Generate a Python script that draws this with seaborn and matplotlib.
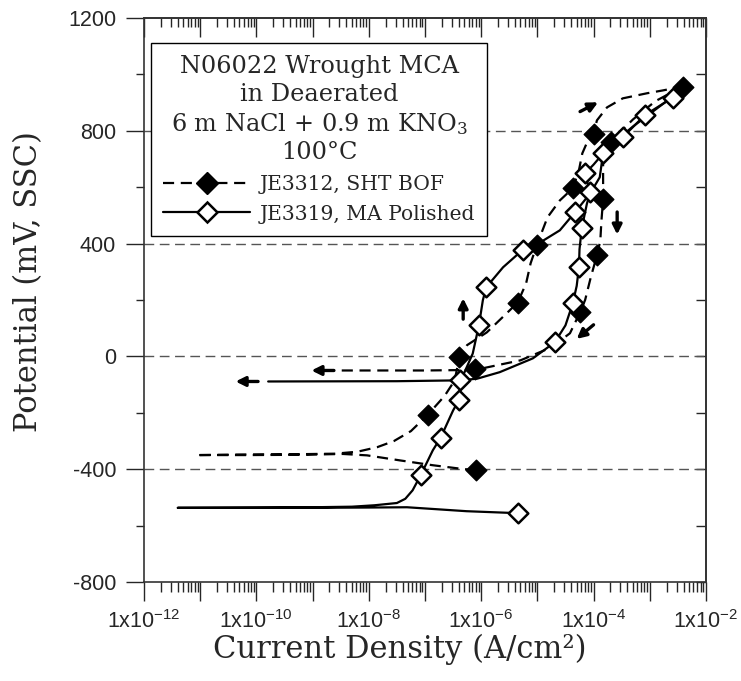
import numpy as np
import pandas as pd
import matplotlib
matplotlib.use('Agg')
import matplotlib.pyplot as plt
import seaborn as sns
from matplotlib.lines import Line2D
from matplotlib.ticker import FixedLocator, FuncFormatter, NullFormatter

# JE3312, SHT BOF (dashed line, filled diamonds); current as log10(A/cm2), potential in mV SSC
bof_fwd_logi = [-6.09, -6.38, -6.86, -7.44, -8.03, -8.46, -9.2, -10.2, -11.07,
                -10.3, -9.3, -8.6, -8.2, -7.85, -7.55, -7.25, -6.95, -6.65, -6.47, -6.39,
                -6.25, -5.9, -5.55, -5.35, -5.2, -5.12, -5.01, -4.82, -4.6, -4.37,
                -4.26, -4.2, -4.1, -4.0, -3.94, -3.76, -3.48, -3.05, -2.77, -2.41]
bof_fwd_mv = [-404, -398, -386, -369, -351, -346, -349, -350, -350,
              -348, -347, -345, -338, -322, -300, -265, -207, -140, -85, -3,
              40, 85, 152, 191, 259, 330, 394, 493, 553, 596,
              660, 720, 766, 790, 837, 883, 915, 933, 943, 957]
bof_rev_logi = [-2.41, -2.9, -3.3, -3.55, -3.69, -3.8, -3.83, -3.83, -3.83, -3.86,
                -3.88, -3.94, -4.05, -4.15, -4.24, -4.42, -4.75, -5.3, -6.11, -7.0, -8.57]
bof_rev_mv = [957, 905, 840, 790, 759, 725, 690, 620, 557, 480,
              410, 358, 280, 200, 156, 82, 32, -14, -48, -50, -50]
bof_mark_logi = [-6.09, -6.95, -6.39, -5.35, -5.01, -4.37, -4.0, -2.41,
                 -3.69, -3.83, -3.94, -4.24, -6.11]
bof_mark_mv = [-404, -207, -3, 191, 394, 596, 790, 957,
               759, 557, 358, 156, -45]

# JE3319, MA Polished (solid line, open diamonds)
ma_fwd_logi = [-5.35, -6.26, -7.32, -8.0, -9.0, -10.0, -11.4, -10.0, -9.0, -8.3,
               -7.9, -7.5, -7.35, -7.22, -7.07, -6.86, -6.72, -6.5, -6.39, -6.36,
               -6.15, -6.04, -5.97, -5.91, -5.61, -5.31, -5.26, -4.95, -4.6, -4.33,
               -4.06, -3.89, -3.83, -3.58, -3.48, -3.09, -2.59, -2.4]
ma_fwd_mv = [-556, -549, -535, -536, -537, -537, -537, -536, -535, -533,
             -528, -520, -505, -475, -419, -333, -288, -192, -153, -85,
             10, 110, 199, 245, 316, 369, 379, 404, 447, 511,
             578, 635, 720, 770, 777, 855, 918, 950]
ma_rev_logi = [-2.4, -2.7, -3.0, -3.3, -3.6, -3.85, -4.0, -4.15, -4.1, -4.06,
               -4.12, -4.21, -4.25, -4.26, -4.3, -4.37, -4.5, -4.69, -5.08, -5.67,
               -6.07, -6.38, -7.5, -9.79]
ma_rev_mv = [950, 905, 860, 815, 765, 715, 680, 649, 610, 582,
             540, 454, 380, 316, 250, 188, 110, 50, -7, -56,
             -79, -85, -88, -89]
ma_mark_logi = [-5.35, -7.07, -6.72, -6.39, -6.04, -5.91, -5.26, -4.33, -3.83, -3.48,
                -3.09, -2.59, -4.15, -4.06, -4.21, -4.26, -4.37, -4.69, -6.38]
ma_mark_mv = [-556, -419, -288, -153, 110, 245, 379, 511, 720, 777,
              855, 918, 649, 582, 454, 316, 188, 50, -85]

grid_levels = [-400, 0, 400, 800]
# scan-direction arrows: (tail log i, tail mV, head log i, head mV)
arrows = [(-4.24, 868, -3.92, 901), (-3.58, 512, -3.58, 432), (-4.0, 112, -4.3, 62),
          (-6.32, 132, -6.32, 206), (-8.62, -50, -9.02, -50), (-9.97, -89, -10.37, -89)]

legend_title = 'N06022 Wrought MCA\nin Deaerated\n6 m NaCl + 0.9 m KNO$\\mathregular{_3}$\n100°C'
labels = ['JE3312, SHT BOF', 'JE3319, MA Polished']

sns.set_style('ticks')
plt.rcParams['font.family'] = ['Liberation Sans', 'DejaVu Sans']
plt.rcParams['axes.unicode_minus'] = False
serif = ['DejaVu Serif']

fig = plt.figure(figsize=(7.41, 6.81), dpi=100)
ax = fig.add_axes([0.1943, 0.1454, 0.7584, 0.8282])
ax.set_xscale('log')

for lv in grid_levels:
    ax.axhline(lv, color='#555555', lw=1, ls=(0, (7, 4)), zorder=1)

def to_i(vals):
    return [10 ** v for v in vals]

sns.lineplot(x=to_i(bof_fwd_logi), y=bof_fwd_mv, sort=False, estimator=None, ax=ax,
             color='black', lw=1.6, linestyle=(0, (5, 3)), zorder=3)
sns.lineplot(x=to_i(bof_rev_logi), y=bof_rev_mv, sort=False, estimator=None, ax=ax,
             color='black', lw=1.6, linestyle=(0, (5, 3)), zorder=3)
sns.lineplot(x=to_i(ma_fwd_logi), y=ma_fwd_mv, sort=False, estimator=None, ax=ax,
             color='black', lw=1.6, zorder=3)
sns.lineplot(x=to_i(ma_rev_logi), y=ma_rev_mv, sort=False, estimator=None, ax=ax,
             color='black', lw=1.6, zorder=3)
sns.scatterplot(x=to_i(bof_mark_logi), y=bof_mark_mv, ax=ax, marker='D', s=110,
                color='black', edgecolor='black', linewidth=1, zorder=4)
sns.scatterplot(x=to_i(ma_mark_logi), y=ma_mark_mv, ax=ax, marker='D', s=100,
                facecolor='white', edgecolor='black', linewidth=1.8, zorder=4)

for x0, y0, x1, y1 in arrows:
    ax.annotate('', xy=(10 ** x1, y1), xytext=(10 ** x0, y0),
                arrowprops=dict(arrowstyle='-|>', color='black', lw=2.4, mutation_scale=14,
                                shrinkA=0, shrinkB=0), zorder=5)

ax.set_xlim(1e-12, 1e-2)
ax.set_ylim(-800, 1200)

# ticks
ax.xaxis.set_major_locator(FixedLocator([10.0 ** e for e in range(-12, -1)]))
ax.xaxis.set_minor_locator(FixedLocator([m * 10.0 ** e for e in range(-12, -2) for m in range(2, 10)]))
ax.xaxis.set_major_formatter(FuncFormatter(
    lambda v, p: ('1x10$\\mathregular{^{%d}}$' % round(np.log10(v))) if round(np.log10(v)) % 2 == 0 else ''))
ax.xaxis.set_minor_formatter(NullFormatter())
ax.yaxis.set_major_locator(FixedLocator([-800, -400, 0, 400, 800, 1200]))
ax.yaxis.set_minor_locator(FixedLocator([-600, -200, 200, 600, 1000]))
ax.tick_params(axis='x', which='major', direction='out', length=13.5, width=1, labelsize=15.5, pad=7)
ax.tick_params(axis='x', which='minor', direction='out', length=7, width=1)
ax.tick_params(axis='y', which='major', direction='out', length=13, width=1, labelsize=15.5, pad=7)
ax.tick_params(axis='y', which='minor', direction='out', length=6, width=1)

top = ax.secondary_xaxis('top')
top.xaxis.set_major_locator(FixedLocator([10.0 ** e for e in range(-12, -1)]))
top.xaxis.set_minor_locator(FixedLocator([m * 10.0 ** e for e in range(-12, -2) for m in range(2, 10)]))
top.xaxis.set_major_formatter(NullFormatter())
top.xaxis.set_minor_formatter(NullFormatter())
top.tick_params(axis='x', which='major', direction='in', length=13.5, width=1)
top.tick_params(axis='x', which='minor', direction='in', length=6.5, width=1)
right = ax.secondary_yaxis('right')
right.yaxis.set_major_locator(FixedLocator([-800, -400, 0, 400, 800, 1200]))
right.yaxis.set_minor_locator(FixedLocator([-600, -200, 200, 600, 1000]))
right.yaxis.set_major_formatter(NullFormatter())
right.tick_params(axis='y', which='both', direction='in', length=7, width=1)
for a in (top, right):
    for sp in a.spines.values():
        sp.set_linewidth(1.2)
for sp in ax.spines.values():
    sp.set_linewidth(1.2)
    sp.set_color('#333333')

ax.set_xlabel('Current Density (A/cm²)', fontsize=22, family=serif)
ax.set_ylabel('Potential (mV, SSC)', fontsize=22, family=serif)
ax.xaxis.set_label_coords(0.455, -0.092)
ax.yaxis.set_label_coords(-0.178, 0.532)

handles = [Line2D([], [], color='black', lw=1.6, ls=(0, (5, 3)), marker='D', ms=11,
                  mfc='black', mec='black'),
           Line2D([], [], color='black', lw=1.6, marker='D', ms=10, mfc='white',
                  mec='black', mew=1.8)]
leg = ax.legend(handles, labels, title=legend_title, loc='upper left',
                bbox_to_anchor=(0.0125, 0.956), borderaxespad=0, frameon=True,
                fancybox=False, framealpha=1, edgecolor='black', handlelength=4.3,
                labelspacing=0.52, borderpad=0.6, handletextpad=0.45,
                prop={'family': serif, 'size': 14.6},
                title_fontproperties={'family': serif, 'size': 17.3})
leg.get_title().set_multialignment('center')
leg.get_title().set_linespacing(1.26)
leg.get_frame().set_linewidth(1)

fig.savefig('out.png', dpi=100)
